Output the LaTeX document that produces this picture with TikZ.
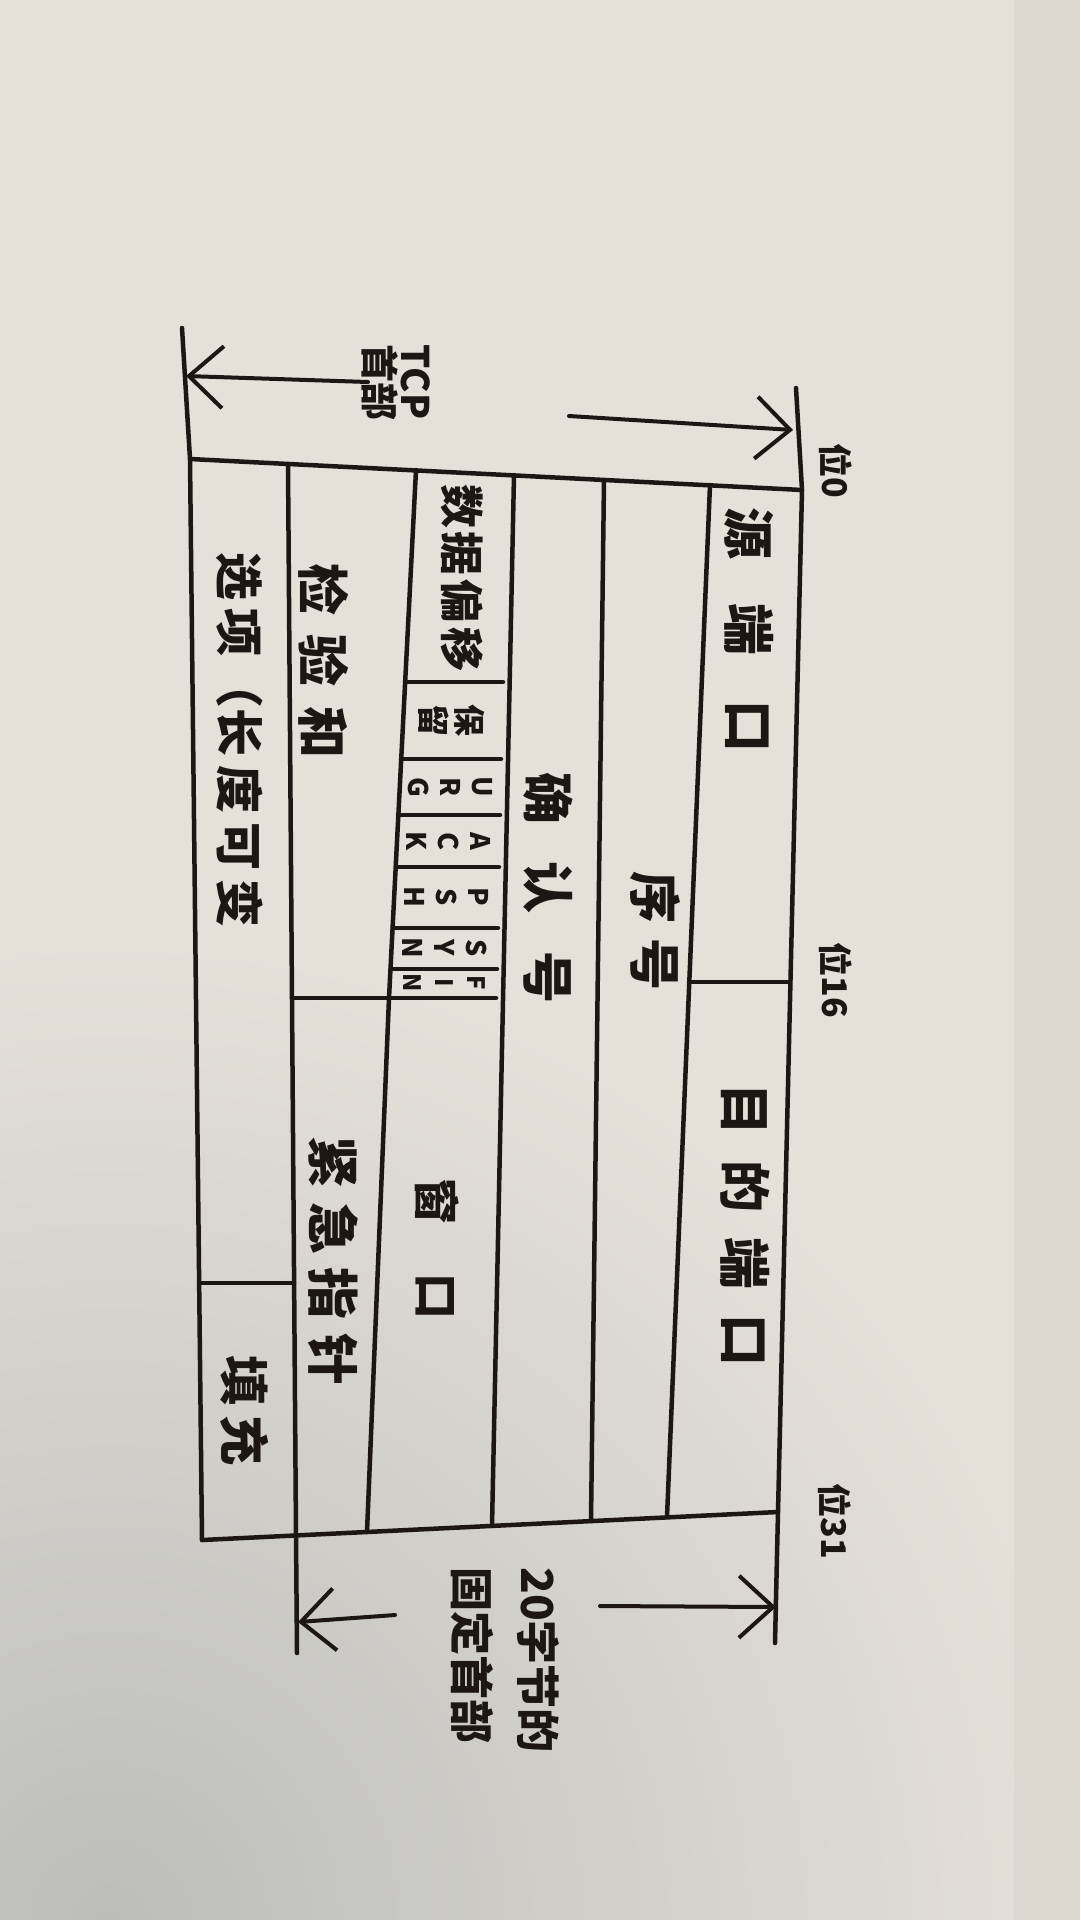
\documentclass[tikz,border=0pt]{standalone}
\usepackage{fontspec}
\newfontfamily\cjk{Noto Sans CJK SC}
\usetikzlibrary{arrows.meta}
\definecolor{paper}{RGB}{229,225,217}
\definecolor{shadow}{RGB}{188,189,187}
\definecolor{pedge}{RGB}{222,217,208}
\definecolor{ink}{RGB}{28,23,18}
\newcommand\gp[1]{\hspace{#1pt}}
\begin{document}
\begin{tikzpicture}[x=1pt,y=-1pt,
  ln/.style={draw=ink,line width=4.5pt,line cap=round,line join=round},
  dimarrow/.style={draw=ink,line width=4pt,line cap=round,-{Straight Barb[length=34pt,width=62pt]}},
  tx/.style={text=ink,rotate=-90,inner sep=0pt,align=center},
  fbig/.style={font=\cjk\bfseries\fontsize{52}{60}\selectfont},
  fmid/.style={font=\cjk\bfseries\fontsize{46}{54}\selectfont},
  fsm/.style={font=\cjk\bfseries\fontsize{32}{36}\selectfont},
  fflag/.style={font=\cjk\bfseries\fontsize{27}{32}\selectfont},
  fbit/.style={font=\cjk\bfseries\fontsize{34}{40}\selectfont}]
\useasboundingbox (0,0) rectangle (1080,1920);
% paper
\fill[paper] (0,0) rectangle (1080,1920);
\begin{scope}
  \clip (0,0) rectangle (1080,1920);
  \shade[inner color=shadow, outer color=paper] (110,1920) circle (980);
  \fill[pedge] (1014,0) rectangle (1080,1920);
\end{scope}

% frame coordinates
\coordinate (v1t) at (190,459);  \coordinate (v1b) at (202,1540);
\coordinate (v2t) at (288,464);  \coordinate (v2b) at (296,1535); \coordinate (v2e) at (297,1653);
\coordinate (v3t) at (416,470);  \coordinate (v3m) at (389,998);  \coordinate (v4b) at (367,1532);
\coordinate (v5t) at (514,475);  \coordinate (v5b) at (492,1526);
\coordinate (v6t) at (604,480);  \coordinate (v6b) at (591,1521);
\coordinate (v7t) at (710,485);  \coordinate (v7b) at (667,1517);
\coordinate (v8t) at (802,490);  \coordinate (v8b) at (778,1512); \coordinate (v8e) at (775,1643);
\coordinate (v8x) at (796,388);
\coordinate (v1x) at (182,328);

% outline and row separators
\draw[ln] (v1t) -- (v8t);
\draw[ln] (v1b) -- (v8b);
\draw[ln] (v1x) -- (v1t) -- (v1b);
\draw[ln] (v2t) -- (v2b) -- (v2e);
\draw[ln] (v3t) -- (v3m) -- (v4b);
\draw[ln] (v5t) -- (v5b);
\draw[ln] (v6t) -- (v6b);
\draw[ln] (v7t) -- (v7b);
\draw[ln] (v8x) -- (v8t) -- (v8b) -- (v8e);

% field separators
\draw[ln] (292,998) -- (496,998);
\draw[ln] (199,1283) -- (294,1283);
\draw[ln] (689,982) -- (790,982);
\draw[ln] (405,682) -- (503,682);
\draw[ln] (401,759) -- (501,759);
\draw[ln] (398,815) -- (500,815);
\draw[ln] (396,867) -- (499,867);
\draw[ln] (393,928) -- (498,928);
\draw[ln] (391,969) -- (497,969);

% field labels
\node[tx,fbig] (src) at (749,630) {源\gp{45}端\gp{45}口};
\node[tx,fbig] (dst) at (745,1225) {目\gp{25}的\gp{25}端\gp{25}口};
\node[tx,fbig] (seq) at (655,931) {序\gp{15}号};
\node[tx,fbig] (ackn) at (548,888) {确\gp{38}认\gp{38}号};
\node[tx,font=\cjk\bfseries\fontsize{44}{50}\selectfont] (doff) at (462,578) {数\gp{4}据\gp{4}偏\gp{4}移};
\node[tx,fsm] (rsv) at (452,720) {保\\留};
\node[tx,fflag] (furg) at (450,787) {U\\R\\G};
\node[tx,fflag] (fack) at (449,841) {A\\C\\K};
\node[tx,fflag] (fpsh) at (447,897) {P\\S\\H};
\node[tx,fflag] (fsyn) at (445,948) {S\\Y\\N};
\node[tx,font=\cjk\bfseries\fontsize{24}{32}\selectfont] (ffin) at (444,983) {F\\I\\N};
\node[tx,fmid] (win) at (437,1249) {窗\gp{50}口};
\node[tx,fbig] (csum) at (324,661) {检\gp{20}验\gp{20}和};
\node[tx,fbig] (uptr) at (333,1261) {紧\gp{14}急\gp{14}指\gp{14}针};
\node[tx,font=\cjk\bfseries\fontsize{48}{54}\selectfont] (opt) at (240,740) {选\gp{9}项\gp{4}（长\gp{9}度\gp{9}可\gp{9}变};
\node[tx,font=\cjk\bfseries\fontsize{50}{56}\selectfont] (pad) at (245,1410) {填\gp{10}充};

% bit labels
\node[tx,fbit] (b0) at (836,471) {位0};
\node[tx,fbit] (b16) at (836,980) {位16};
\node[tx,fbit] (b31) at (835,1521) {位31};

% dimension texts
\node[tx,font=\cjk\bfseries\fontsize{38}{36}\selectfont] (hdr) at (396,382) {TCP\\首部};
\node[tx,font=\cjk\bfseries\fontsize{44}{66}\selectfont,align=left] (fixed) at (505,1660) {20字节的\\固定首部};

% dimension arrows
\coordinate (hdrL) at (368,382);
\coordinate (hdrLtip) at (186,376);
\coordinate (hdrR) at (569,416);
\coordinate (hdrRtip) at (793,430);
\coordinate (fixR) at (600,1606);
\coordinate (fixRtip) at (776,1607);
\coordinate (fixL) at (395,1615);
\coordinate (fixLtip) at (298,1622);
\draw[dimarrow] (hdrL) -- (hdrLtip);
\draw[dimarrow] (hdrR) -- (hdrRtip);
\draw[dimarrow] (fixR) -- (fixRtip);
\draw[dimarrow] (fixL) -- (fixLtip);
\end{tikzpicture}
\end{document}
